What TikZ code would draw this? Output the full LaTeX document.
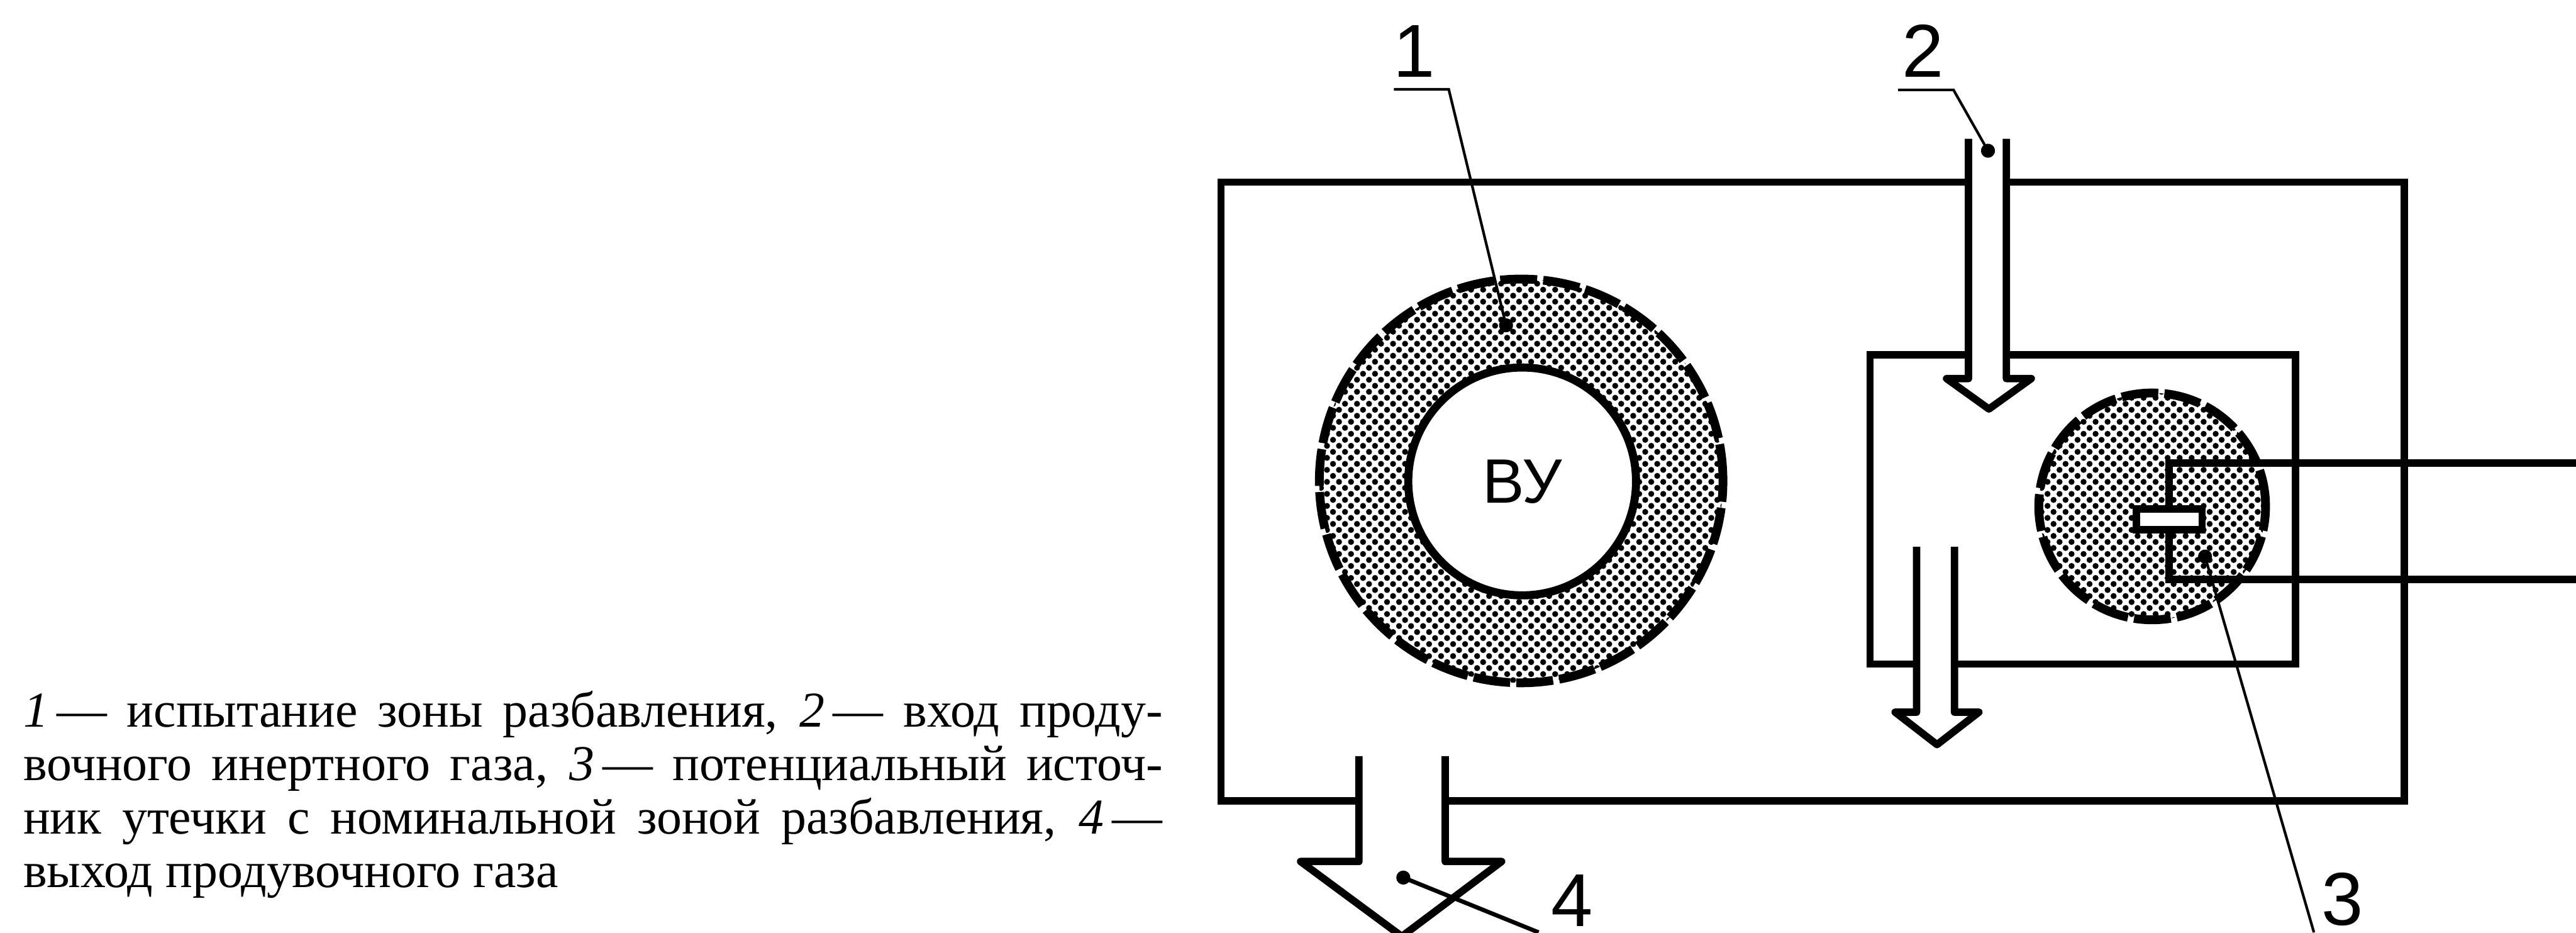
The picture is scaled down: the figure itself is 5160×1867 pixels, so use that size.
\documentclass[tikz,border=0pt]{standalone}
\usepackage{fontspec}
\setmainfont{Liberation Serif}
\setsansfont{Liberation Sans}
\usetikzlibrary{arrows.meta,patterns.meta}
\tikzset{
    wall/.style={draw, line width=4.2pt, line join=miter},
    flow/.style={wall, fill=white, line join=round},
    leader/.style={draw, line width=1.5pt, -{Circle[length=0.28cm,width=0.28cm]}},
    halftone/.style={pattern={Dots[radius=0.06cm,distance=0.17cm,angle=45]}},
    zone/.style={circle, halftone, draw, line width=5pt, dash pattern=on 21pt off 3.5pt, inner sep=0pt},
    numlabel/.style={font=\sffamily\fontsize{42.7}{42.7}\selectfont, inner sep=0pt}
}
\begin{document}
\begin{tikzpicture}[x=0.01cm, y=-0.01cm]
    \clip (0,0) rectangle (5160,1867);

    \node[text width=22.81cm, align=justify, inner sep=0pt, anchor=north west,
          font=\fontsize{28.6}{30.4}\selectfont]
        (caption) at (46,1383) {\textit{1}\,— испытание зоны разбавления, \textit{2}\,— вход проду-\linebreak
        вочного инертного газа, \textit{3}\,— потенциальный источ-\linebreak
        ник утечки с номинальной зоной разбавления, \textit{4}\,—\linebreak
        выход продувочного газа};

    \node[wall, minimum width=23.69cm, minimum height=12.38cm] (chamber) at (3631,984) {};
    \node[wall, minimum width=8.52cm, minimum height=6.19cm] (cell) at (4172,1020) {};

    \node[zone, minimum size=8.08cm] (dilution) at (3047,963) {};
    \node[circle, draw, fill=white, line width=4.6pt, minimum size=4.56cm, inner sep=0pt,
          font=\sffamily\fontsize{35.7}{35.7}\selectfont] (vu) at (3049,964) {ВУ};
    \node[zone, minimum size=4.54cm] (source) at (4311,1014) {};

    \draw[flow] (3943,278) -- (3943,758) -- (3899,758) -- (3984,819)
        -- (4069,758) -- (4019,758) -- (4019,278);
    \draw[flow] (3839,1095) -- (3839,1426) -- (3796,1426) -- (3880,1491)
        -- (3964,1426) -- (3915,1426) -- (3915,1095);
    \draw[flow] (2722,1514) -- (2722,1725) -- (2605,1725) -- (2808,1875)
        -- (3008,1725) -- (2895,1725) -- (2895,1514);

    \node[wall, fill=white, minimum width=1.32cm, minimum height=0.41cm] (sensor) at (4345,1040) {};
    \coordinate (wireup) at (5160,927);
    \coordinate (wiredown) at (5160,1160);
    \draw[wall] (wireup) -- (wireup -| sensor) -- (sensor.north);
    \draw[wall] (wiredown) -- (wiredown -| sensor) -- (sensor.south);

    \node[numlabel] (n1) at (2833,103) {1};
    \node[numlabel] (n2) at (3852,102) {2};
    \node[numlabel] (n3) at (4692,1801) {3};
    \node[numlabel] (n4) at (3149,1803) {4};

    \coordinate (tick1) at (2792,179);
    \coordinate (bend1) at (2902,179);
    \coordinate (dot1) at (3020,665);
    \coordinate (tick2) at (3802,180);
    \coordinate (bend2) at (3913,180);
    \coordinate (dot2) at (3989,314);
    \coordinate (dot3) at (4413,1101);
    \coordinate (end3) at (4635,1867);
    \coordinate (dot4) at (2798,1752);
    \coordinate (end4) at (3082,1867);

    \draw[leader] (tick1) -- (bend1) -- (dot1);
    \draw[leader] (tick2) -- (bend2) -- (dot2);
    \draw[leader] (end3) -- (dot3);
    \draw[leader, line width=2.4pt] (end4) -- (dot4);
\end{tikzpicture}
\end{document}
